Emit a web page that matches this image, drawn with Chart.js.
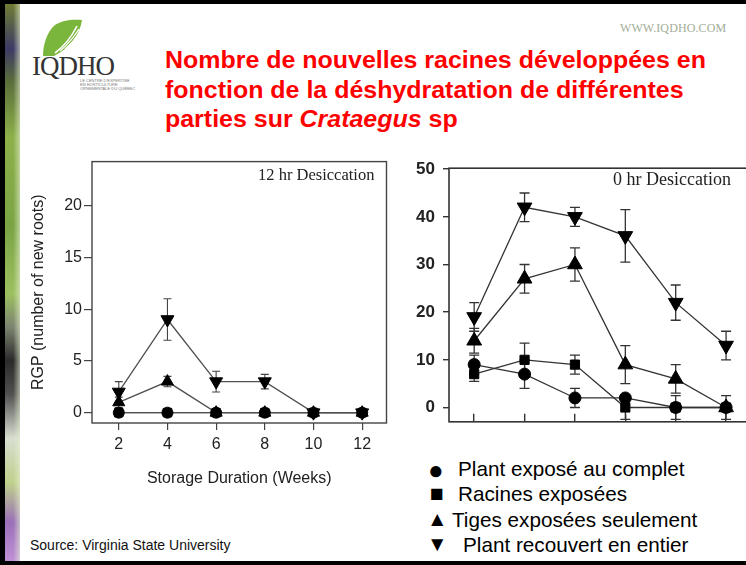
<!DOCTYPE html>
<html lang="fr">
<head>
<meta charset="UTF-8">
<script src="https://cdn.jsdelivr.net/npm/chart.js"></script>
<style>
  html, body { margin: 0; padding: 0; }
  body { width: 746px; height: 565px; position: relative; overflow: hidden; background: #fff; font-family: "Liberation Sans", Arial, sans-serif; }
  .abs { position: absolute; }
  .cadre-haut { left: 0; top: 0; width: 746px; height: 4px; background: #000; }
  .cadre-bas { left: 0; bottom: 0; width: 746px; height: 4px; background: #000; }
  .cadre-gauche { left: 0; top: 0; width: 5px; height: 565px; background: #000; }
  .bande { left: 5px; top: 4px; width: 15px; height: 557px;
    background: linear-gradient(to right, rgba(255,255,255,0) 55%, rgba(230,240,210,0.6)),
                linear-gradient(to bottom, #6f7d33 0%, #3c3a66 8%, #5b6e3a 14%, #8db04a 24%, #7aa444 40%, #9cc060 52%, #7c8470 58%, #2a2a2a 64%, #505050 70%, #d8ddd0 78%, #bfd08a 86%, #9a70b8 93%, #c090d8 100%); }
  .site { left: 620px; top: 21px; font-family: "Liberation Serif", serif; font-size: 12px; color: #a3ad98; letter-spacing: 0.1px; }
  .logo-nom { left: 32px; top: 51px; font-family: "Liberation Serif", serif; font-size: 27px; color: #333; letter-spacing: -1px; }
  .logo-sous { left: 80px; top: 79px; font-size: 8px; line-height: 8px; color: #777; transform: scale(0.5); transform-origin: 0 0; white-space: nowrap; }
  .titre { left: 165px; top: 46px; color: #ff0000; font-weight: bold; font-size: 23px; line-height: 29.5px; white-space: nowrap; transform: scaleX(1.085); transform-origin: 0 0; }
  .annot { font-family: "Liberation Serif", serif; color: #222; white-space: nowrap; }
  .legende div { position: absolute; white-space: nowrap; font-size: 20.7px; color: #000; }
  .source { left: 30px; top: 537px; font-size: 14px; color: #111; }
  canvas { position: absolute; }
</style>
</head>
<body>
  <div class="abs cadre-haut"></div>
  <div class="abs cadre-bas"></div>
  <div class="abs bande"></div>
  <div class="abs cadre-gauche"></div>

  <svg class="abs" style="left:38px;top:16px" width="50" height="42" viewBox="0 0 50 42">
    <path d="M5,40 C5,28 9,16 17,9 C24,4 34,3 44,4 C42,18 32,32 16,40 Z" fill="#7bb63c"/>
    <path d="M17,37 C25,31 33,22 39,10" stroke="#fff" stroke-width="1.6" fill="none"/>
    <path d="M22,35 C29,29 36,21 41,13" stroke="#fff" stroke-width="1.4" fill="none"/>
    <path d="M27,33 C33,28 38,22 42,16" stroke="#fff" stroke-width="1.2" fill="none"/>
  </svg>
  <div class="abs logo-nom">IQDHO</div>
  <div class="abs logo-sous">LE CENTRE D'EXPERTISE<br>EN HORTICULTURE<br>ORNEMENTALE DU QUÉBEC</div>
  <div class="abs site">WWW.IQDHO.COM</div>

  <div class="abs titre">Nombre de nouvelles racines développées en<br>fonction de la déshydratation de différentes<br>parties sur <i>Crataegus</i> sp</div>

  <canvas id="graphe12" width="370" height="345" style="left:25px;top:150px"></canvas>
  <canvas id="graphe0" width="360" height="290" style="left:400px;top:150px"></canvas>

  <div class="abs annot" style="left:258px;top:165px;font-size:16.5px">12 hr Desiccation</div>
  <div class="abs annot" style="left:613px;top:169px;font-size:18px">0 hr Desiccation</div>

  <div class="abs legende" style="left:0;top:0">
    <div style="left:428px;top:455px;font-size:26px">●</div>
    <div style="left:458px;top:457px">Plant exposé au complet</div>
    <div style="left:430px;top:480px;font-size:23px">■</div>
    <div style="left:458px;top:482px">Racines exposées</div>
    <div style="left:427px;top:507px">▲</div>
    <div style="left:452px;top:508px">Tiges exposées seulement</div>
    <div style="left:427px;top:532px">▼</div>
    <div style="left:463px;top:533px">Plant recouvert en entier</div>
  </div>

  <div class="abs source">Source: Virginia State University</div>

<script>
  // semaines de stockage
  const semaines = [2, 4, 6, 8, 10, 12];
  const ticksY12 = [0, 5, 10, 15, 20];
  const ticksY0 = [0, 10, 20, 30, 40, 50];

  // 12 h de dessiccation
  const complet12 = [0, 0, 0, 0, 0, 0];
  const racines12 = [0, 0, 0, 0, 0, 0];
  const tiges12 = [1, 3, 0, 0, 0, 0];
  const recouvert12 = [2, 9, 3, 3, 0, 0];
  const errTiges12 = [0.5, 0.5, 0, 0, 0, 0];
  const errRecouvert12 = [1, 2, 1, 0.7, 0, 0];

  // 0 h de dessiccation
  const complet0 = [9, 7, 2, 2, 0, 0];
  const racines0 = [7, 10, 9, 0, 0, 0];
  const tiges0 = [14, 27, 30, 9, 6, 0];
  const recouvert0 = [19, 42, 40, 36, 22, 13];
  const errComplet0 = [2, 3, 2, 0, 2.5, 2.5];
  const errRacines0 = [1.5, 3.5, 2, 2.5, 0, 0];
  const errTiges0 = [2.6, 3, 3.5, 4, 3, 0];
  const errRecouvert0 = [3, 3, 2, 5.5, 3.7, 3];

  const points = vals => semaines.map((s, i) => ({ x: s, y: vals[i] }));

  // barres d'erreur verticales avec petits chapeaux
  const barresErreur = {
    id: 'barresErreur',
    beforeDatasetsDraw(chart, args, opts) {
      const { ctx, chartArea, scales: { x, y } } = chart;
      ctx.save();
      ctx.beginPath();
      ctx.rect(chartArea.left, chartArea.top, chartArea.right - chartArea.left, chartArea.bottom - chartArea.top);
      ctx.clip();
      ctx.strokeStyle = opts.couleur;
      ctx.lineWidth = opts.epaisseur;
      chart.data.datasets.forEach(ds => {
        if (!ds.erreurs) return;
        ds.data.forEach((pt, i) => {
          const e = ds.erreurs[i];
          if (!e) return;
          const px = x.getPixelForValue(pt.x);
          const haut = y.getPixelForValue(pt.y + e);
          const bas = y.getPixelForValue(pt.y - e);
          ctx.beginPath();
          ctx.moveTo(px, haut); ctx.lineTo(px, bas);
          ctx.moveTo(px - opts.chapeau, haut); ctx.lineTo(px + opts.chapeau, haut);
          ctx.moveTo(px - opts.chapeau, bas); ctx.lineTo(px + opts.chapeau, bas);
          ctx.stroke();
        });
      });
      ctx.restore();
    }
  };

  // cadre autour de la zone du graphique
  const cadre = {
    id: 'cadre',
    afterDatasetsDraw(chart, args, opts) {
      const { ctx, chartArea: a } = chart;
      ctx.save();
      ctx.strokeStyle = opts.couleur;
      ctx.lineWidth = opts.epaisseur;
      ctx.strokeRect(a.left, a.top, a.right - a.left, a.bottom - a.top);
      ctx.restore();
    }
  };

  function serie(vals, errs, forme, taille, rotation, trait) {
    return {
      data: points(vals),
      erreurs: errs,
      borderColor: trait,
      borderWidth: 1.3,
      backgroundColor: '#000',
      pointBackgroundColor: '#000',
      pointBorderColor: '#000',
      pointBorderWidth: 1,
      pointStyle: forme,
      pointRadius: taille,
      pointRotation: rotation,
      tension: 0,
      fill: false
    };
  }

  function fixerTicks(valeurs) {
    return s => { s.ticks = valeurs.map(v => ({ value: v })); };
  }

  const trait12 = '#505050';
  new Chart(document.getElementById('graphe12'), {
    type: 'line',
    data: {
      datasets: [
        serie(complet12, null, 'circle', 5.5, 0, trait12),
        serie(racines12, null, 'rect', 6, 0, trait12),
        serie(tiges12, errTiges12, 'triangle', 7, 0, trait12),
        serie(recouvert12, errRecouvert12, 'triangle', 7.5, 180, trait12)
      ]
    },
    plugins: [barresErreur, cadre],
    options: {
      responsive: false,
      animation: false,
      events: [],
      layout: { padding: { top: 5, right: 7, left: 0, bottom: 0 } },
      plugins: {
        legend: { display: false },
        tooltip: { enabled: false },
        barresErreur: { couleur: '#444', epaisseur: 1.1, chapeau: 4 },
        cadre: { couleur: '#444', epaisseur: 1.4 }
      },
      scales: {
        x: {
          type: 'linear', min: 0.9, max: 13,
          afterBuildTicks: fixerTicks(semaines),
          afterFit: s => { s.height = 72; },
          border: { display: false },
          grid: { drawOnChartArea: false, tickLength: 7, color: '#444', lineWidth: 1.2 },
          ticks: { color: '#222', font: { size: 16 }, padding: 5, maxRotation: 0 },
          title: { display: true, text: 'Storage Duration (Weeks)', color: '#222', font: { size: 16 }, padding: { bottom: 7 } }
        },
        y: {
          min: -1, max: 24.25,
          afterBuildTicks: fixerTicks(ticksY12),
          afterFit: s => { s.width = 67; },
          border: { display: false },
          grid: { drawOnChartArea: false, tickLength: 8, color: '#444', lineWidth: 1.2 },
          ticks: { color: '#222', font: { size: 16 }, padding: 2 },
          title: { display: true, text: 'RGP (number of new roots)', color: '#222', font: { size: 16 }, padding: { top: 4 } }
        }
      }
    }
  });

  const trait0 = '#333';
  new Chart(document.getElementById('graphe0'), {
    type: 'line',
    data: {
      datasets: [
        serie(complet0, errComplet0, 'circle', 6, 0, trait0),
        serie(racines0, errRacines0, 'rect', 6.5, 0, trait0),
        serie(tiges0, errTiges0, 'triangle', 8.5, 0, trait0),
        serie(recouvert0, errRecouvert0, 'triangle', 8.5, 180, trait0)
      ]
    },
    plugins: [barresErreur, cadre],
    options: {
      responsive: false,
      animation: false,
      events: [],
      layout: { padding: { top: 9, right: 10, left: 0, bottom: 0 } },
      plugins: {
        legend: { display: false },
        tooltip: { enabled: false },
        barresErreur: { couleur: '#333', epaisseur: 1.3, chapeau: 5 },
        cadre: { couleur: '#333', epaisseur: 1.6 }
      },
      scales: {
        x: {
          type: 'linear', min: 1, max: 12.95,
          afterBuildTicks: fixerTicks(semaines),
          afterFit: s => { s.height = 12; },
          border: { display: false },
          grid: { drawOnChartArea: false, tickLength: -8, color: '#333', lineWidth: 1.4 },
          ticks: { display: false }
        },
        y: {
          min: -3, max: 50.2,
          afterBuildTicks: fixerTicks(ticksY0),
          afterFit: s => { s.width = 49; },
          border: { display: false },
          grid: { drawOnChartArea: false, tickLength: 6, color: '#333', lineWidth: 1.4 },
          ticks: { color: '#222', font: { size: 17, weight: 'bold' }, padding: 8 }
        }
      }
    }
  });
</script>
</body>
</html>
